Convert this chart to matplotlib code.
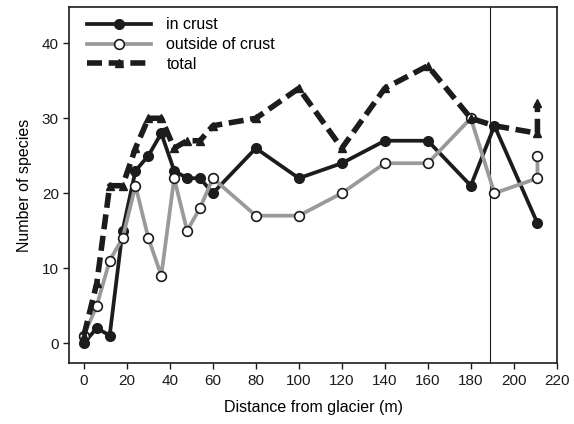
import matplotlib
matplotlib.use("Agg")
import matplotlib.pyplot as plt

plt.rcParams['font.family'] = ['Liberation Sans', 'DejaVu Sans']

crust_x = [0, 0, 6, 12, 18, 24, 30, 36, 42, 48, 54, 60, 80, 100, 120, 140, 160, 180, 191, 211]
crust_y = [1, 0, 2, 1, 15, 23, 25, 28, 23, 22, 22, 20, 26, 22, 24, 27, 27, 21, 29, 16]

out_x = [0, 6, 12, 18, 24, 30, 36, 42, 48, 54, 60, 80, 100, 120, 140, 160, 180, 191, 211, 211]
out_y = [1, 5, 11, 14, 21, 14, 9, 22, 15, 18, 22, 17, 17, 20, 24, 24, 30, 20, 22, 25]

total_x = [0, 6, 12, 18, 24, 30, 36, 42, 48, 54, 60, 80, 100, 120, 140, 160, 180, 191, 211, 211]
total_y = [1, 8, 21, 21, 26, 30, 30, 26, 27, 27, 29, 30, 34, 26, 34, 37, 30, 29, 28, 32]

vline_x = 189

fig = plt.figure(figsize=(5.74, 4.24), dpi=100)
ax = fig.add_axes([0.1207, 0.1432, 0.8493, 0.8403])

ax.plot(crust_x, crust_y, color='#1c1c1c', lw=2.7, marker='o', ms=7,
        mfc='#1c1c1c', mec='#1c1c1c', label='in crust', zorder=3)
ax.plot(out_x, out_y, color='#9a9a9a', lw=2.7, marker='o', ms=7,
        mfc='white', mec='#1c1c1c', mew=1.2, label='outside of crust', zorder=4)
ax.plot(total_x, total_y, color='#1c1c1c', lw=4.0, ls=(0, (2.7, 1.2)), marker='^', ms=6,
        mfc='#1c1c1c', mec='#1c1c1c', label='total', zorder=5)

ax.axvline(vline_x, color='#1c1c1c', lw=0.8, zorder=2)

ax.set_xlim(-6.8, 220)
ax.set_ylim(-2.7, 44.85)
ax.set_xticks(range(0, 221, 20))
ax.set_yticks(range(0, 41, 10))
ax.tick_params(direction='out', length=4, width=1, labelsize=11, colors='#1c1c1c')
for s in ax.spines.values():
    s.set_linewidth(1.2)
    s.set_color('#1c1c1c')

ax.set_xlabel('Distance from glacier (m)', fontsize=11.5, labelpad=9)
ax.set_ylabel('Number of species', fontsize=11.5, labelpad=7)

ax.legend(loc='upper left', frameon=False, fontsize=11.5, handlelength=4.05,
          handletextpad=0.94, labelspacing=0.3, borderaxespad=0.0, borderpad=0.4,
          bbox_to_anchor=(0.0226, 0.989))

fig.savefig('out.png', dpi=100)
